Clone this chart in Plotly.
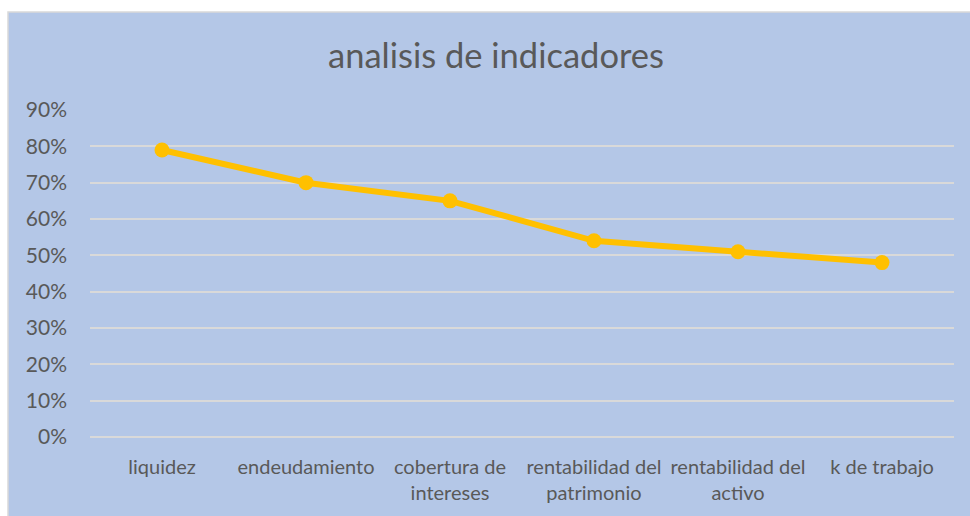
import plotly.graph_objects as go

categories = ["liquidez", "endeudamiento", "cobertura de<br>intereses",
              "rentabilidad del<br>patrimonio", "rentabilidad del<br>activo", "k de trabajo"]
values = [0.79, 0.70, 0.65, 0.54, 0.51, 0.48]
y_ticks = [0, 0.1, 0.2, 0.3, 0.4, 0.5, 0.6, 0.7, 0.8, 0.9]

FONT = "Lato, Roboto, Arial, sans-serif"
TXT = "#595959"
BLUE = "#B4C7E7"

fig = go.Figure()
fig.add_trace(go.Scatter(
    x=categories, y=values, mode="lines+markers",
    line=dict(color="#FFC000", width=6),
    marker=dict(color="#FFC000", size=15),
    showlegend=False, hoverinfo="skip"))

W, H = 970, 516
L, R, T, B = 90, 16, 110, 76
pw, ph = W - L - R, H - T - B

fig.add_shape(type="rect", xref="paper", yref="paper",
              x0=(8 - L) / pw, x1=(W + 5 - L) / pw,
              y0=-(H + 5 - (H - B)) / ph, y1=((H - B) - 11) / ph,
              fillcolor=BLUE, line=dict(color="#D9D9D9", width=1.5), layer="below")

fig.update_layout(
    width=W, height=H,
    margin=dict(l=L, r=R, t=T, b=B),
    paper_bgcolor="white", plot_bgcolor="rgba(0,0,0,0)",
    title=dict(text="analisis de indicadores", x=496 / W, xref="container", xanchor="center",
               y=1 - 56 / H, yanchor="middle",
               font=dict(family=FONT, size=34.5, color=TXT)),
    font=dict(family=FONT, color=TXT),
    xaxis=dict(showgrid=False, showline=False, zeroline=False, ticks="",
               tickfont=dict(size=20, color=TXT), ticklabelstandoff=16,
               range=[-0.5, 5.5]),
    yaxis=dict(range=[0, 0.9], tickvals=y_ticks, tickformat=".0%",
               showgrid=True, gridcolor="#D9D9D9", gridwidth=1.5,
               zeroline=True, zerolinecolor="#D9D9D9", zerolinewidth=1.5,
               showline=False, ticks="", ticklabelstandoff=22,
               tickfont=dict(size=21, color=TXT)),
)

fig.write_html("out.html", config={"displayModeBar": False},
               post_script="document.body.style.margin='0';")
